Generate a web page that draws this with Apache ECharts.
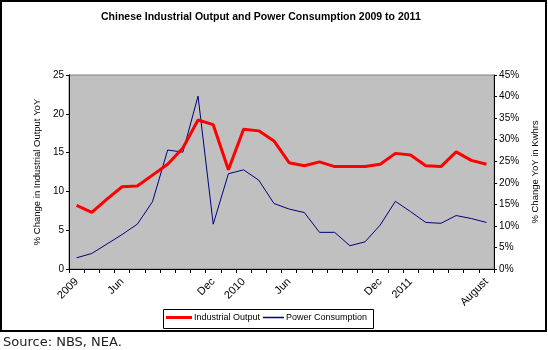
<!DOCTYPE html>
<html>
<head>
<meta charset="utf-8">
<script src="https://cdn.jsdelivr.net/npm/echarts@6/dist/echarts.min.js"></script>
<style>html,body{margin:0;padding:0;background:#fff;}#c{width:548px;height:350px;}</style>
</head>
<body>
<div id="c"></div>
<script>
var categories = ['2009','','','Jun','','','','','','Dec','','2010','','','Jun','','','','','','Dec','','2011','','','','','August'];
var industrialOutput = [8.2,7.3,9.0,10.6,10.7,12.1,13.5,15.6,19.2,18.6,12.8,18.0,17.8,16.5,13.7,13.3,13.8,13.2,13.2,13.2,13.5,14.9,14.7,13.3,13.2,15.1,14.0,13.5];
var powerConsumption = [2.6,3.6,5.8,8.0,10.4,15.6,27.6,27.1,40.1,10.4,22.1,23.0,20.6,15.2,13.9,13.1,8.5,8.5,5.4,6.3,10.2,15.7,13.3,10.8,10.6,12.4,11.7,10.8];
var leftTicks = [0,5,10,15,20,25];
var rightTicks = [0,5,10,15,20,25,30,35,40,45];

var chart = echarts.init(document.getElementById('c'), null, {renderer:'canvas'});
var font = 'Liberation Sans, Arial, sans-serif';
chart.setOption({
  animation: false,
  backgroundColor: '#ffffff',
  title: [
    {text: 'Chinese Industrial Output and Power Consumption 2009 to 2011', left: 101, top: 12, padding: 0,
     textStyle: {fontFamily: font, fontSize: 10.5, fontWeight: 'bold', color: '#000'}},
    {text: 'Source: NBS, NEA.', left: 3, top: 336, padding: 0,
     textStyle: {fontFamily: 'DejaVu Sans, Verdana, sans-serif', fontSize: 13, fontWeight: 'normal', color: '#222'}}
  ],
  graphic: [
    {type: 'rect', shape: {x: 1, y: 1, width: 545, height: 330}, style: {fill: 'none', stroke: '#000', lineWidth: 2}, z: 100, silent: true},
    {type: 'rect', shape: {x: 163.5, y: 309.5, width: 210, height: 19}, style: {fill: '#fff', stroke: '#000', lineWidth: 1}, z: 1, silent: true}
  ],
  legend: [
    {data: [{name: 'Industrial Output', icon: 'rect'}], left: 166, top: 313, padding: 0, itemWidth: 26, itemHeight: 3, itemGap: 0,
     textStyle: {fontFamily: font, fontSize: 9, color: '#000', padding: [0,0,0,-3]}, z: 5},
    {data: [{name: 'Power Consumption', icon: 'rect'}], left: 263, top: 313, padding: 0, itemWidth: 21, itemHeight: 1.5, itemGap: 0,
     textStyle: {fontFamily: font, fontSize: 9, color: '#000', padding: [0,0,0,-3]}, z: 5}
  ],
  grid: {left: 69, right: 46, top: 75, bottom: 81, show: true, backgroundColor: '#c0c0c0', borderColor: '#808080', borderWidth: 1},
  xAxis: {
    type: 'category', data: categories, boundaryGap: true,
    axisLine: {lineStyle: {color: '#000', width: 1}},
    axisTick: {show: true, interval: 0, length: 4, alignWithLabel: false, lineStyle: {color: '#000'}},
    axisLabel: {interval: 0, rotate: 45, margin: 11, fontFamily: font, fontSize: 11, color: '#000'},
    splitLine: {show: false}
  },
  yAxis: [
    {type: 'value', min: 0, max: 25, interval: 5, position: 'left',
     name: '% Change in Industrial Output YoY', nameLocation: 'middle', nameGap: 27, nameRotate: 90,
     nameTextStyle: {fontFamily: font, fontSize: 9.5, color: '#000'},
     axisLine: {show: true, lineStyle: {color: '#000'}},
     axisTick: {show: true, length: 3, lineStyle: {color: '#000'}},
     axisLabel: {margin: 5, fontFamily: font, fontSize: 10, color: '#000',
       formatter: function(v){ return leftTicks.indexOf(v) >= 0 ? String(v) : ''; }},
     splitLine: {show: false}},
    {type: 'value', min: 0, max: 45, interval: 5, position: 'right',
     name: '% Change YoY in Kwhrs', nameLocation: 'middle', nameGap: 33, nameRotate: 90,
     nameTextStyle: {fontFamily: font, fontSize: 9.5, color: '#000'},
     axisLine: {show: true, lineStyle: {color: '#000'}},
     axisTick: {show: true, length: 3, lineStyle: {color: '#000'}},
     axisLabel: {margin: 5, fontFamily: font, fontSize: 10, color: '#000',
       formatter: function(v){ return rightTicks.indexOf(v) >= 0 ? v + '%' : ''; }},
     splitLine: {show: false}}
  ],
  series: [
    {name: 'Industrial Output', type: 'line', yAxisIndex: 0, data: industrialOutput, showSymbol: false, symbol: 'none',
     lineStyle: {color: '#ff0000', width: 3}, itemStyle: {color: '#ff0000'}, z: 3},
    {name: 'Power Consumption', type: 'line', yAxisIndex: 1, data: powerConsumption, showSymbol: false, symbol: 'none',
     lineStyle: {color: '#000080', width: 1}, itemStyle: {color: '#000080'}, z: 2}
  ]
});
</script>
</body>
</html>
